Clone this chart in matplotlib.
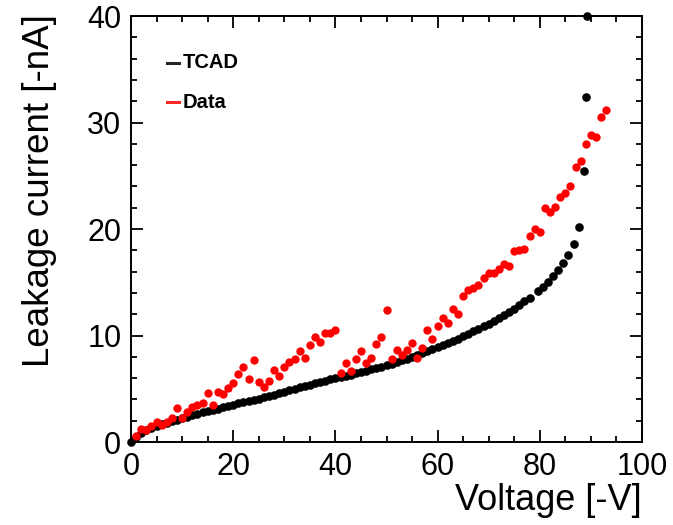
import matplotlib
matplotlib.use("Agg")
import matplotlib.pyplot as plt
from matplotlib.ticker import MultipleLocator

plt.rcParams['font.family'] = ['Liberation Sans', 'DejaVu Sans']

# TCAD simulation (voltage [-V], leakage current [-nA])
tcad_v = list(range(0, 79)) + [79.7, 80.7, 81.7, 82.6, 83.6, 84.6, 85.6, 86.6,
                               87.7, 88.6, 89.0, 89.2]
tcad_i = [0.0, 0.5, 0.85, 1.1, 1.3, 1.48, 1.65, 1.8, 1.95, 2.1,
          2.24, 2.38, 2.52, 2.65, 2.78, 2.9, 3.02, 3.14, 3.26, 3.38,
          3.5, 3.62, 3.74, 3.86, 3.97, 4.08, 4.19, 4.3, 4.44, 4.58,
          4.72, 4.86, 5.0, 5.13, 5.26, 5.39, 5.51, 5.63, 5.75, 5.87,
          5.99, 6.1, 6.21, 6.33, 6.45, 6.57, 6.69, 6.82, 6.95, 7.08,
          7.22, 7.37, 7.52, 7.68, 7.84, 8.0, 8.17, 8.34, 8.52, 8.7,
          8.9, 9.1, 9.3, 9.5, 9.7, 9.92, 10.15, 10.38, 10.62, 10.86,
          11.1, 11.35, 11.6, 11.9, 12.2, 12.5, 12.85, 13.2, 13.55,
          14.2, 14.6, 15.05, 15.6, 16.15, 16.8, 17.6, 18.6,
          20.2, 25.4, 32.4, 40.0]

# Measured data
data_v = list(range(1, 94))
data_i = [0.6, 1.19, 1.15, 1.53, 1.85, 1.55, 1.91, 2.22, 3.22, 2.3,
          2.85, 3.32, 3.47, 3.63, 4.57, 3.47, 4.66, 4.47, 5.04, 5.5,
          6.35, 7.0, 5.9, 7.7, 5.66, 5.2, 5.73, 6.76, 6.23, 7.07,
          7.54, 7.76, 8.58, 7.85, 9.1, 9.89, 9.42, 10.2, 10.2, 10.5,
          6.45, 7.39, 6.7, 7.79, 8.54, 7.45, 7.85, 9.2, 9.89, 12.4,
          7.8, 8.62, 8.17, 8.64, 9.33, 7.85, 8.86, 10.5, 9.64, 10.9,
          11.67, 11.2, 12.46, 12.0, 13.7, 14.27, 14.5, 14.7, 15.4, 15.9,
          15.85, 16.2, 16.7, 16.5, 17.96, 18.0, 18.15, 19.35, 19.97, 19.75,
          22.0, 21.6, 22.1, 23.0, 23.35, 24.0, 25.85, 26.4, 28.0, 28.8,
          28.6, 30.5, 31.2]

legend_labels = ["TCAD", "Data"]
colors = ["black", "red"]

fig = plt.figure(figsize=(6.73, 5.25), dpi=100)
ax = fig.add_axes([131/673, 1-442/525, 511/673, 426/525])

ax.plot(tcad_v, tcad_i, 'o', color=colors[0], ms=6.2, mew=0, clip_on=False, zorder=3)
ax.plot(data_v, data_i, 'o', color=colors[1], ms=6.0, mew=0, clip_on=False, zorder=4)

ax.set_xlim(0, 100)
ax.set_ylim(0, 40)
ax.xaxis.set_major_locator(MultipleLocator(20))
ax.xaxis.set_minor_locator(MultipleLocator(5))
ax.yaxis.set_major_locator(MultipleLocator(10))
ax.yaxis.set_minor_locator(MultipleLocator(2))
ax.tick_params(which='both', direction='in', top=True, right=True, width=1.3,
               labelsize=22, colors='black')
ax.tick_params(which='major', length=8.6, pad=7)
ax.tick_params(which='minor', length=4.3)
for s in ax.spines.values():
    s.set_linewidth(1.4)

ax.set_xlabel("Voltage [-V]", fontsize=26, loc='right')
ax.set_ylabel("Leakage current [-nA]", fontsize=26.5, loc='top')
ax.xaxis.set_label_coords(1.0, -0.097)
ax.yaxis.set_label_coords(-0.145, 1.005)

# legend (ROOT style: short line + bold label)
for k, (lab, col) in enumerate(zip(legend_labels, colors)):
    yy = 0.89 - k * 0.092
    ax.plot([0.0699, 0.0945], [yy, yy], color=col, lw=2.2, alpha=0.85,
            transform=ax.transAxes)
    ax.text(0.1018, yy, lab, transform=ax.transAxes, fontsize=14.5,
            fontweight='bold', va='center', ha='left')

fig.savefig("out.png", dpi=100)
